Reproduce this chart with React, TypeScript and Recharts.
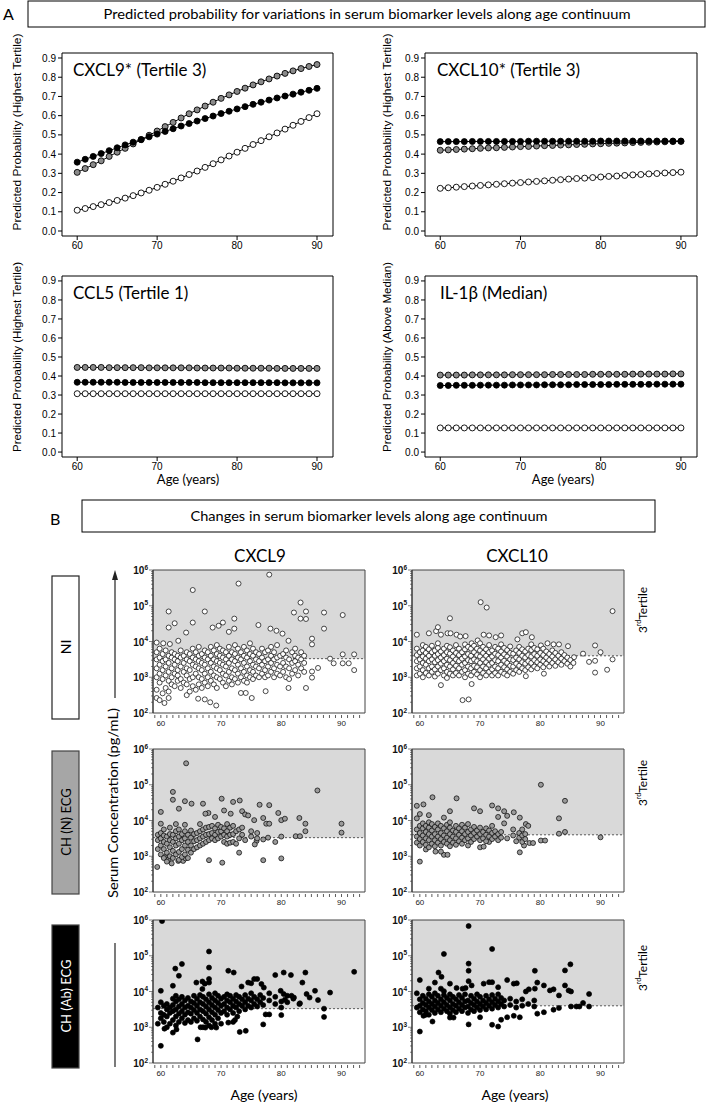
import React from "react"
import {
  LineChart,
  Line,
  ScatterChart,
  Scatter,
  XAxis,
  YAxis,
  ReferenceArea,
  ReferenceLine,
} from "recharts"

const ARIAL = "'Liberation Sans', Arial, sans-serif"
const CALIBRI = "Lato, 'Open Sans', sans-serif"

// ---------- panel A: predicted probability ----------
const ages = [60, 61, 62, 63, 64, 65, 66, 67, 68, 69, 70, 71, 72, 73, 74, 75, 76, 77, 78, 79, 80, 81, 82, 83, 84, 85, 86, 87, 88, 89, 90]
const probTicks = [0, 0.1, 0.2, 0.3, 0.4, 0.5, 0.6, 0.7, 0.8, 0.9]
const ageTicksA = [60, 70, 80, 90]

const cxcl9Grey = [0.305, 0.325, 0.345, 0.365, 0.388, 0.41, 0.43, 0.453, 0.475, 0.498, 0.52, 0.543, 0.565, 0.588, 0.61, 0.63, 0.65, 0.67, 0.69, 0.708, 0.726, 0.743, 0.76, 0.776, 0.791, 0.806, 0.82, 0.833, 0.845, 0.856, 0.866]
const cxcl9Black = [0.358, 0.373, 0.388, 0.403, 0.418, 0.433, 0.448, 0.462, 0.476, 0.49, 0.504, 0.518, 0.532, 0.546, 0.559, 0.572, 0.585, 0.598, 0.611, 0.623, 0.635, 0.647, 0.659, 0.67, 0.681, 0.692, 0.702, 0.712, 0.722, 0.732, 0.742]
const cxcl9White = [0.108, 0.117, 0.127, 0.137, 0.148, 0.159, 0.171, 0.184, 0.198, 0.212, 0.227, 0.243, 0.259, 0.276, 0.294, 0.312, 0.331, 0.35, 0.37, 0.39, 0.41, 0.43, 0.45, 0.47, 0.49, 0.51, 0.53, 0.55, 0.57, 0.59, 0.61]

const cxcl10Grey = [0.42, 0.422, 0.424, 0.426, 0.428, 0.43, 0.432, 0.433, 0.435, 0.437, 0.439, 0.44, 0.442, 0.444, 0.445, 0.447, 0.448, 0.45, 0.451, 0.453, 0.454, 0.456, 0.457, 0.458, 0.46, 0.461, 0.462, 0.463, 0.464, 0.465, 0.466]
const cxcl10Black = [0.465, 0.465, 0.465, 0.465, 0.466, 0.466, 0.466, 0.466, 0.466, 0.466, 0.466, 0.467, 0.467, 0.467, 0.467, 0.467, 0.467, 0.467, 0.467, 0.467, 0.468, 0.468, 0.468, 0.468, 0.468, 0.468, 0.468, 0.468, 0.468, 0.468, 0.468]
const cxcl10White = [0.222, 0.225, 0.228, 0.231, 0.234, 0.237, 0.24, 0.243, 0.246, 0.249, 0.252, 0.255, 0.258, 0.261, 0.264, 0.267, 0.27, 0.273, 0.275, 0.278, 0.281, 0.284, 0.286, 0.289, 0.292, 0.294, 0.297, 0.299, 0.302, 0.304, 0.306]

const ccl5Grey = [0.445, 0.445, 0.445, 0.445, 0.444, 0.444, 0.444, 0.444, 0.444, 0.443, 0.443, 0.443, 0.443, 0.443, 0.443, 0.442, 0.442, 0.442, 0.442, 0.442, 0.441, 0.441, 0.441, 0.441, 0.441, 0.44, 0.44, 0.44, 0.44, 0.44, 0.44]
const ccl5Black = [0.367, 0.367, 0.367, 0.367, 0.367, 0.367, 0.366, 0.366, 0.366, 0.366, 0.366, 0.366, 0.366, 0.366, 0.366, 0.366, 0.365, 0.365, 0.365, 0.365, 0.365, 0.365, 0.365, 0.365, 0.365, 0.365, 0.364, 0.364, 0.364, 0.364, 0.364]
const ccl5White = [0.307, 0.307, 0.307, 0.307, 0.307, 0.307, 0.307, 0.307, 0.307, 0.307, 0.307, 0.307, 0.307, 0.307, 0.307, 0.307, 0.307, 0.307, 0.307, 0.307, 0.307, 0.307, 0.307, 0.307, 0.307, 0.307, 0.307, 0.307, 0.307, 0.307, 0.307]

const il1bGrey = [0.405, 0.405, 0.405, 0.405, 0.406, 0.406, 0.406, 0.406, 0.406, 0.407, 0.407, 0.407, 0.407, 0.407, 0.408, 0.408, 0.408, 0.408, 0.408, 0.409, 0.409, 0.409, 0.409, 0.409, 0.41, 0.41, 0.41, 0.41, 0.41, 0.411, 0.411]
const il1bBlack = [0.35, 0.35, 0.351, 0.351, 0.351, 0.352, 0.352, 0.352, 0.352, 0.353, 0.353, 0.353, 0.353, 0.354, 0.354, 0.354, 0.354, 0.355, 0.355, 0.355, 0.355, 0.355, 0.356, 0.356, 0.356, 0.356, 0.356, 0.357, 0.357, 0.357, 0.357]
const il1bWhite = [0.127, 0.127, 0.127, 0.127, 0.127, 0.127, 0.127, 0.127, 0.127, 0.127, 0.127, 0.127, 0.127, 0.127, 0.127, 0.127, 0.127, 0.127, 0.127, 0.127, 0.127, 0.127, 0.127, 0.127, 0.127, 0.127, 0.127, 0.127, 0.127, 0.127, 0.127]

// ---------- panel B: serum concentration (log10 pg/mL) ----------
const yearTicks = [59, 60, 61, 62, 63, 64, 65, 66, 67, 68, 69, 70, 71, 72, 73, 74, 75, 76, 77, 78, 79, 80, 81, 82, 83, 84, 85, 86, 87, 88, 89, 90, 91, 92, 93]
const concTicks = [
  100, 200, 300, 400, 500, 600, 700, 800, 900,
  1000, 2000, 3000, 4000, 5000, 6000, 7000, 8000, 9000,
  10000, 20000, 30000, 40000, 50000, 60000, 70000, 80000, 90000,
  100000, 200000, 300000, 400000, 500000, 600000, 700000, 800000, 900000, 1000000,
]
const cxcl9Cut = 3.52
const cxcl10Cut = 3.6

// [age, log10 conc]
const cxcl9NiOut = [
  [65.3, 5.44], [72.9, 5.62], [78, 5.87], [83.2, 5.09], [61.3, 4.84], [62.3, 4.51], [61.3, 4.39], [65.3, 4.53], [67.3, 4.84],
  [64.2, 4.25], [62.9, 4.02], [59.3, 3.97], [60.4, 3.95], [61.5, 3.93], [70.3, 4.53], [69.6, 4.44], [68.6, 4.39], [72.2, 4.64],
  [71.3, 4.27], [72.2, 4.36], [76.2, 4.46], [78.2, 4.36], [79.2, 4.3], [80.2, 4.22], [82.1, 4.81], [84.1, 4.84], [83.2, 4.64],
  [84.1, 4.63], [87.1, 4.81], [87.1, 4.36], [90.2, 4.74], [85.1, 4.08], [85.1, 3.92], [81.2, 4.02], [88.1, 3.52], [88.7, 3.39],
  [90.2, 3.39], [91.2, 3.39], [90.2, 3.64], [92.1, 3.64], [92.1, 3.2], [86.1, 3.26], [85.1, 2.99], [85.1, 3.16], [84.1, 2.7],
  [81.2, 2.7], [77.4, 2.61], [66.2, 2.4], [67.3, 2.38], [68.2, 2.3], [69.2, 2.21], [73.3, 2.56], [74.1, 2.56], [75.1, 2.42],
  [59.3, 2.42], [59.8, 2.36], [60.6, 2.28], [61.3, 2.42],
]
const cxcl9NiCore = [
  [59.3, [2.65, 3.0, 3.25, 3.5, 3.7]], [59.8, [2.85, 3.1, 3.35, 3.55, 3.8]], [60.3, [2.55, 2.95, 3.2, 3.45, 3.65]],
  [60.8, [2.7, 3.05, 3.3, 3.5, 3.75]], [61.3, [2.6, 2.9, 3.15, 3.4, 3.6]], [61.8, [2.8, 3.0, 3.25, 3.55, 3.7]],
  [62.3, [2.75, 3.1, 3.35, 3.5, 3.65]], [62.8, [2.9, 3.05, 3.2, 3.45, 3.6]], [63.3, [2.7, 2.95, 3.3, 3.55, 3.75]],
  [63.8, [2.85, 3.15, 3.4, 3.6]], [64.3, [2.5, 2.8, 3.05, 3.25, 3.5, 3.7]], [64.8, [2.6, 2.95, 3.2, 3.45, 3.65]],
  [65.3, [2.75, 3.0, 3.35, 3.55, 3.8]], [65.8, [2.65, 3.1, 3.3, 3.5, 3.7]], [66.3, [2.8, 3.0, 3.25, 3.45, 3.6, 3.85]],
  [66.8, [2.7, 2.95, 3.2, 3.4, 3.65]], [67.3, [2.85, 3.1, 3.35, 3.55, 3.75]], [67.8, [2.75, 3.0, 3.25, 3.5, 3.7]],
  [68.3, [2.9, 3.15, 3.4, 3.6, 3.85]], [68.8, [2.8, 3.05, 3.3, 3.5, 3.75]], [69.3, [2.7, 3.0, 3.25, 3.45, 3.65, 3.9]],
  [69.8, [2.95, 3.2, 3.4, 3.6, 3.8]], [70.3, [2.85, 3.1, 3.35, 3.55, 3.75]], [70.8, [2.75, 3.05, 3.3, 3.5, 3.7]],
  [71.3, [2.9, 3.15, 3.4, 3.6, 3.85]], [71.8, [2.8, 3.0, 3.25, 3.5, 3.7]], [72.3, [2.95, 3.2, 3.45, 3.65, 3.9]],
  [72.8, [2.85, 3.1, 3.35, 3.55, 3.8]], [73.3, [3.0, 3.25, 3.5, 3.7]], [73.8, [2.9, 3.15, 3.4, 3.6, 3.85]],
  [74.3, [2.85, 3.05, 3.3, 3.55, 3.75]], [74.8, [3.0, 3.2, 3.45, 3.65, 3.95]], [75.3, [2.95, 3.15, 3.35, 3.6, 3.8]],
  [75.8, [3.05, 3.3, 3.5, 3.7]], [76.3, [3.0, 3.25, 3.45, 3.65]], [76.8, [3.1, 3.35, 3.55, 3.8]],
  [77.3, [3.0, 3.2, 3.45, 3.7]], [77.8, [3.05, 3.3, 3.5, 3.75]], [78.3, [3.15, 3.4, 3.6, 3.85]],
  [78.8, [3.0, 3.25, 3.5, 3.7]], [79.3, [3.1, 3.35, 3.55, 3.9]], [79.8, [3.05, 3.3, 3.6]],
  [80.3, [3.15, 3.4, 3.65]], [80.8, [3.0, 3.3, 3.55, 3.75]], [81.3, [2.95, 3.25, 3.5]],
  [81.8, [3.1, 3.4, 3.7]], [82.3, [3.2, 3.45, 3.6, 3.8]], [82.8, [3.05, 3.35, 3.55]],
  [83.3, [3.25, 3.5, 3.7]], [83.8, [3.15, 3.4, 3.6]],
]

const cxcl10NiOut = [
  [70.1, 5.1], [71.1, 4.95], [65, 4.65], [92, 4.85], [59.5, 4.19], [61.5, 4.23], [62.7, 4.29], [63.0, 4.4], [63.5, 4.19],
  [64.6, 4.23], [65.1, 4.23], [66.1, 4.19], [66.7, 4.14], [67.6, 4.15], [68.6, 3.95], [69.6, 4.03], [70.6, 4.19], [71.5, 4.17],
  [72.6, 4.12], [73.5, 4.17], [76.2, 4.06], [77, 4.23], [77.6, 4.26], [78.6, 4.12], [80.1, 3.89], [81.2, 3.95], [82.2, 3.92],
  [83.1, 3.92], [84.6, 3.87], [85.6, 3.56], [87.1, 3.66], [89.1, 3.89], [88.1, 3.43], [89.1, 3.46], [89.1, 3.13], [90, 3.7],
  [91.1, 3.21], [92, 3.5], [63.5, 2.78], [68.6, 2.81], [67.1, 2.36], [68.1, 2.38], [77.6, 3.03], [80.6, 3.1],
]
const cxcl10NiCore = [
  [59.5, [3.05, 3.25, 3.45, 3.62, 3.8]], [60.0, [3.1, 3.3, 3.5, 3.7]], [60.5, [3.0, 3.2, 3.4, 3.58, 3.75, 3.9]],
  [61.0, [3.12, 3.35, 3.52, 3.68, 3.85]], [61.5, [3.05, 3.25, 3.45, 3.6, 3.78]], [62.0, [3.15, 3.3, 3.5, 3.7, 3.88]],
  [62.5, [3.02, 3.22, 3.42, 3.6, 3.75]], [63.0, [3.1, 3.3, 3.48, 3.65, 3.82, 3.95]], [63.5, [3.2, 3.38, 3.55, 3.72]],
  [64.0, [3.05, 3.25, 3.45, 3.62, 3.8]], [64.5, [2.98, 3.15, 3.35, 3.52, 3.7, 3.88]], [65.0, [3.1, 3.3, 3.48, 3.66, 3.84]],
  [65.5, [3.05, 3.22, 3.4, 3.58, 3.75]], [66.0, [3.12, 3.32, 3.5, 3.68, 3.9]], [66.5, [3.05, 3.25, 3.45, 3.62, 3.8]],
  [67.0, [3.15, 3.35, 3.52, 3.7]], [67.5, [3.0, 3.2, 3.4, 3.58, 3.78, 3.92]], [68.0, [3.1, 3.3, 3.48, 3.65, 3.85]],
  [68.5, [3.05, 3.25, 3.45, 3.6, 3.8]], [69.0, [3.15, 3.32, 3.5, 3.7, 3.88]], [69.5, [3.08, 3.28, 3.45, 3.62, 3.8]],
  [70.0, [3.0, 3.2, 3.4, 3.58, 3.75, 3.95]], [70.5, [3.12, 3.3, 3.5, 3.68, 3.85]], [71.0, [3.05, 3.25, 3.42, 3.6, 3.78]],
  [71.5, [3.15, 3.35, 3.52, 3.7, 3.9]], [72.0, [3.05, 3.22, 3.4, 3.58, 3.75]], [72.5, [3.12, 3.3, 3.48, 3.66, 3.85]],
  [73.0, [3.05, 3.25, 3.45, 3.62, 3.8]], [73.5, [3.15, 3.35, 3.55, 3.72, 3.92]], [74.0, [3.1, 3.28, 3.46, 3.64, 3.82]],
  [74.5, [3.05, 3.22, 3.4, 3.58, 3.76]], [75.0, [3.15, 3.32, 3.5, 3.68, 3.86]], [75.5, [3.1, 3.3, 3.48, 3.66]],
  [76.0, [3.2, 3.38, 3.55, 3.75]], [76.5, [3.15, 3.32, 3.5, 3.68, 3.85]], [77.0, [3.25, 3.42, 3.6, 3.78]],
  [77.5, [3.2, 3.38, 3.55, 3.72]], [78.0, [3.28, 3.45, 3.62, 3.8]], [78.5, [3.22, 3.4, 3.58, 3.76, 3.92]],
  [79.0, [3.3, 3.48, 3.65, 3.82]], [79.5, [3.25, 3.42, 3.6, 3.78]], [80.0, [3.35, 3.5, 3.68]],
  [80.5, [3.28, 3.45, 3.62, 3.8]], [81.0, [3.38, 3.55, 3.72]], [81.5, [3.3, 3.48, 3.65]],
  [82.0, [3.4, 3.58, 3.75]], [82.5, [3.32, 3.5, 3.68]], [83.0, [3.42, 3.6]],
  [83.5, [3.35, 3.52, 3.7]], [84.0, [3.45, 3.62]], [84.5, [3.38, 3.55]], [85.0, [3.3, 3.48]], [85.5, [3.4]],
]

const cxcl9ChnOut = [
  [64.2, 5.6], [59.4, 2.7], [60, 4.24], [60, 3.91], [62, 4.8], [62, 4.58], [63, 4.33], [64, 4.54], [65.1, 4.47], [67, 4.47],
  [67.9, 4.21], [67.4, 4.19], [69, 4.1], [70.1, 4.61], [70.5, 4.28], [71.6, 4.19], [72, 4.52], [73.1, 4.56], [73.5, 4.26],
  [74, 4.17], [74.5, 4.14], [75.5, 4.01], [76.4, 4.44], [78, 4.43], [77, 4.07], [77.5, 3.91], [78, 3.91], [79.5, 4.21],
  [80, 4.01], [80.6, 4.05], [83, 4.07], [84, 3.91], [84, 3.7], [86, 4.84], [90, 3.91], [90, 3.66], [82.4, 3.56], [83.1, 3.56],
  [80, 3.55], [77.8, 3.52], [77, 3.47], [75.9, 3.43], [75.6, 3.33], [79, 3.4], [73, 3.1], [70.2, 2.82], [68, 2.89], [77, 2.89],
  [80, 2.94], [60.7, 2.98], [61.8, 2.8], [62.9, 2.87], [63.7, 2.87], [64.1, 2.94], [61.2, 2.9],
]
const cxcl9ChnCore = [
  [59.5, [3.2, 3.45, 3.6]], [60.0, [3.05, 3.3, 3.5, 3.65]], [60.5, [2.95, 3.2, 3.4, 3.58, 3.75]],
  [61.0, [2.85, 3.1, 3.35, 3.55]], [61.5, [3.0, 3.25, 3.45, 3.62, 3.8]], [62.0, [2.95, 3.15, 3.4, 3.6]],
  [62.5, [3.05, 3.3, 3.5, 3.7, 3.9]], [63.0, [2.9, 3.12, 3.35, 3.55, 3.75]], [63.5, [2.98, 3.2, 3.45, 3.62]],
  [64.0, [3.05, 3.3, 3.5, 3.7, 3.88]], [64.5, [2.95, 3.18, 3.4, 3.6]], [65.0, [3.1, 3.3, 3.52, 3.72]],
  [65.5, [3.2, 3.42, 3.62]], [66.0, [3.25, 3.45, 3.65]], [66.5, [3.3, 3.5, 3.7, 3.9]], [67.0, [3.35, 3.55, 3.75]],
  [67.5, [3.4, 3.6, 3.8]], [68.0, [3.45, 3.62, 3.82]], [68.5, [3.5, 3.65, 3.85]], [69.0, [3.45, 3.6, 3.78]],
  [69.5, [3.5, 3.68, 3.88]], [70.0, [3.55, 3.7, 3.82]], [70.5, [3.4, 3.6, 3.78]], [71.0, [3.35, 3.55, 3.7, 3.9]],
  [71.5, [3.38, 3.6, 3.8]], [72.0, [3.4, 3.62, 3.85]], [72.5, [3.35, 3.7]], [73.0, [3.5, 3.75]], [73.5, [3.6, 3.8]],
  [74.0, [3.45]], [75.0, [3.55, 3.7]], [76.0, [3.5, 3.65]],
]

const cxcl10ChnOut = [
  [80.1, 5.0], [84.1, 4.55], [83.1, 4.06], [83.1, 3.63], [84.1, 3.68], [80.1, 3.44], [80.8, 3.44], [90, 3.53], [62.1, 4.65],
  [66.1, 4.62], [60.6, 4.45], [59.5, 4.41], [60, 4.18], [59.5, 4.06], [61.5, 4.15], [64, 4.08], [65, 4.26], [69, 4.34], [70, 4.26],
  [72, 4.42], [73, 4.34], [74, 4.26], [74.5, 4.13], [75.6, 4.23], [73, 4.1], [74, 3.92], [76.6, 4.08], [77.6, 3.9], [78, 3.85],
  [76.6, 3.11], [60, 2.85], [64, 3.04], [64.6, 3.04], [63.5, 3.13], [62.6, 3.13], [61, 3.19], [70, 3.25], [70.6, 3.27],
  [71.5, 3.4], [76, 3.42], [77.3, 3.3], [78.2, 3.37], [78.8, 3.37],
]
const cxcl10ChnCore = [
  [59.5, [3.38, 3.55, 3.75]], [60.0, [3.3, 3.48, 3.65, 3.85]], [60.5, [3.4, 3.58, 3.78, 3.92]], [61.0, [3.32, 3.5, 3.68, 3.85]],
  [61.5, [3.25, 3.45, 3.62, 3.8, 3.95]], [62.0, [3.35, 3.55, 3.72, 3.9]], [62.5, [3.28, 3.45, 3.62, 3.82]],
  [63.0, [3.38, 3.55, 3.75, 3.92]], [63.5, [3.3, 3.48, 3.65, 3.85]], [64.0, [3.4, 3.58, 3.78]], [64.5, [3.35, 3.52, 3.7, 3.88]],
  [65.0, [3.28, 3.45, 3.62, 3.8, 3.95]], [65.5, [3.38, 3.55, 3.72]], [66.0, [3.32, 3.5, 3.68, 3.85]], [66.5, [3.42, 3.6, 3.78]],
  [67.0, [3.35, 3.52, 3.7, 3.88]], [67.5, [3.45, 3.62, 3.8]], [68.0, [3.3, 3.5, 3.68, 3.9]], [68.5, [3.4, 3.58, 3.75]],
  [69.0, [3.48, 3.65, 3.82]], [69.5, [3.55, 3.72]], [70.0, [3.45, 3.62, 3.8]], [70.5, [3.5, 3.68]], [71.0, [3.42, 3.6, 3.78]],
  [71.5, [3.55, 3.72]], [72.0, [3.48, 3.65, 3.85]], [72.5, [3.55, 3.7]], [73.0, [3.45, 3.62]], [73.5, [3.52, 3.68]],
  [74.5, [3.5]], [75.5, [3.58, 3.75]], [76.5, [3.52, 3.65]], [77.0, [3.4, 3.58, 3.75]], [77.5, [3.48, 3.62]],
]

const cxcl9AbOut = [
  [60.2, 5.97], [68, 5.12], [63.5, 4.77], [62.4, 4.64], [63, 4.44], [68, 4.67], [68, 4.35], [68, 4.25], [71.2, 4.58], [72.1, 4.53],
  [60, 4.02], [62, 4.16], [65.9, 4.25], [66.9, 4.28], [67.3, 4.22], [66.9, 4.07], [73.4, 4.14], [74.5, 4.25], [75.5, 4.35],
  [76, 4.35], [75, 4.23], [76.7, 4.21], [77.1, 4.11], [79, 4.46], [80.4, 4.53], [81.6, 4.46], [79.9, 4.02], [80.4, 3.93],
  [80.6, 3.77], [81.7, 3.88], [82.1, 3.83], [83.1, 3.67], [83.5, 4.25], [84, 4.53], [84.2, 3.93], [84.7, 3.83], [85.6, 4.02],
  [86.1, 3.76], [87.1, 3.52], [87.1, 3.29], [88.1, 3.97], [92.1, 4.55], [80, 3.34], [78, 3.36], [77.4, 3.36], [77, 3.08],
  [74.1, 2.9], [73.1, 2.87], [66.1, 2.66], [60, 2.48], [62, 2.85], [62.6, 2.94], [60.6, 2.96], [69.2, 2.99], [67.4, 2.99],
  [66.6, 3.0], [68.4, 3.0], [71.2, 3.13], [72, 3.15], [72.3, 3.2], [72.7, 3.3],
]
const cxcl9AbCore = [
  [59.5, [3.1, 3.55]], [60.0, [3.25, 3.4, 3.7]], [60.5, [3.15, 3.35, 3.6]], [61.0, [3.0, 3.3, 3.5, 3.65]],
  [61.5, [3.1, 3.4, 3.55]], [62.0, [3.2, 3.45, 3.62, 3.8]], [62.5, [3.05, 3.3, 3.5, 3.72, 3.88]], [63.0, [3.15, 3.38, 3.58, 3.78]],
  [63.5, [3.25, 3.45, 3.65, 3.85]], [64.0, [3.12, 3.35, 3.55, 3.75]], [64.5, [3.2, 3.42, 3.6, 3.82]], [65.0, [3.15, 3.38, 3.55, 3.72]],
  [65.5, [3.25, 3.48, 3.68, 3.88]], [66.0, [3.18, 3.4, 3.6, 3.8]], [66.5, [3.3, 3.5, 3.7, 3.9]], [67.0, [3.0, 3.22, 3.45, 3.65, 3.85]],
  [67.5, [3.15, 3.38, 3.58, 3.78]], [68.0, [3.05, 3.28, 3.5, 3.7, 3.92]], [68.5, [3.2, 3.42, 3.62, 3.82]],
  [69.0, [3.1, 3.35, 3.55, 3.75, 3.95]], [69.5, [3.25, 3.48, 3.68, 3.88]], [70.0, [3.1, 3.4, 3.6, 3.8]], [70.5, [3.45, 3.65, 3.85]],
  [71.0, [3.35, 3.55, 3.75, 3.92]], [71.5, [3.5, 3.7, 3.88]], [72.0, [3.4, 3.6, 3.8]], [72.5, [3.55, 3.72, 3.9]],
  [73.0, [3.45, 3.65, 3.85]], [73.5, [3.6, 3.78]], [74.0, [3.5, 3.7, 3.9]], [74.5, [3.6, 3.8]], [75.0, [3.55, 3.75, 3.95]],
  [75.5, [3.65, 3.85]], [76.0, [3.58, 3.78]], [76.5, [3.7, 3.9]], [77.0, [3.62, 3.82]], [78.0, [3.75, 3.95]],
  [79.0, [3.65, 3.85]], [80.0, [3.55, 3.72]], [81.0, [3.7, 3.88]], [82.0, [3.8]], [83.0, [3.65]],
]

const cxcl10AbOut = [
  [68.1, 5.83], [64, 5.05], [72, 5.19], [63.1, 4.53], [63.6, 4.41], [60, 4.32], [68.1, 4.78], [68.1, 4.58], [68.1, 4.29],
  [65, 4.22], [62.5, 4.25], [64, 4.01], [63.5, 4.08], [61.5, 4.08], [66.1, 4.1], [67.1, 4.08], [67.6, 4.1], [68.6, 4.17],
  [70.6, 4.22], [71.5, 4.26], [72, 4.26], [73, 4.12], [74.5, 4.32], [75.6, 4.22], [76.1, 4.23], [79.1, 4.58], [79.5, 4.25],
  [80.6, 4.17], [81.6, 4.03], [82.2, 4.06], [79.1, 4.08], [78.1, 4.06], [77.6, 4.0], [84.1, 4.59], [85, 4.76], [84.1, 4.17],
  [84.7, 4.03], [85.1, 4.0], [83.1, 3.89], [88.1, 3.93], [85.1, 3.58], [86, 3.58], [86.5, 3.58], [88.1, 3.58], [87.1, 3.68],
  [82.2, 3.49], [83.1, 3.54], [79.5, 3.38], [80.6, 3.42], [76.6, 3.28], [75.6, 3.32], [74.5, 3.28], [73, 3.02], [73.5, 3.21],
  [72, 3.07], [68.1, 3.08], [70, 3.28], [65, 3.27], [65.6, 3.27], [62.1, 3.16], [60, 2.88], [60.6, 3.32], [61, 3.35],
]
const cxcl10AbCore = [
  [59.5, [3.55, 3.95]], [60.0, [3.42, 3.6, 3.78]], [60.5, [3.5, 3.68, 3.88]], [61.0, [3.45, 3.62, 3.8]],
  [61.5, [3.35, 3.55, 3.72, 3.92]], [62.0, [3.48, 3.65, 3.85]], [62.5, [3.4, 3.58, 3.75, 3.95]], [63.0, [3.5, 3.68, 3.88]],
  [63.5, [3.42, 3.6, 3.78]], [64.0, [3.52, 3.7, 3.9]], [64.5, [3.45, 3.62, 3.82]], [65.0, [3.38, 3.55, 3.75, 3.92]],
  [65.5, [3.48, 3.65, 3.85]], [66.0, [3.42, 3.6, 3.78]], [66.5, [3.52, 3.7, 3.9]], [67.0, [3.45, 3.62, 3.82]],
  [67.5, [3.55, 3.72, 3.92]], [68.0, [3.4, 3.58, 3.75]], [68.5, [3.5, 3.68, 3.88]], [69.0, [3.45, 3.62, 3.8]],
  [69.5, [3.55, 3.72, 3.92]], [70.0, [3.48, 3.65, 3.85]], [70.5, [3.58, 3.75]], [71.0, [3.5, 3.68, 3.88]],
  [71.5, [3.6, 3.78]], [72.0, [3.52, 3.7, 3.9]], [72.5, [3.62, 3.8]], [73.0, [3.55, 3.72, 3.92]], [73.5, [3.65, 3.82]],
  [74.0, [3.58, 3.75]], [75.0, [3.62, 3.8]], [76.0, [3.55, 3.72]], [77.0, [3.6, 3.78]], [78.0, [3.65]], [79.0, [3.58, 3.75]],
]

type Pair = number[]
type Col = [number, number[]]

function toRows(out: Pair[], core: Col[]) {
  const rows = out.map(([a, v]) => ({ age: a, conc: Math.pow(10, v) }))
  core.forEach(([a, vs]) => vs.forEach((v) => rows.push({ age: a, conc: Math.pow(10, v) })))
  return rows
}

// ---------- charts ----------
const PAD_L = 45
const PAD_T = 6
const PAD_R = 6
const PAD_B = 30
const A_X = [58.1, 92]
const A_Y = [-0.026, 0.926]

function ProbChart({ x0, y0, w, h, grey, black, white }: any) {
  const rows = ages.map((a, i) => ({ age: a, grey: grey[i], black: black[i], white: white[i] }))
  const dot = (fill: string) => ({ r: 3, fill, stroke: "#000", strokeWidth: 0.9 })
  return (
    <div style={{ position: "absolute", left: x0 - PAD_L, top: y0 - PAD_T }}>
      <LineChart
        width={w + PAD_L + PAD_R}
        height={h + PAD_T + PAD_B}
        data={rows}
        margin={{ top: PAD_T, right: PAD_R, left: PAD_L - 40, bottom: PAD_B - 25 }}
      >
        <XAxis
          type="number"
          dataKey="age"
          domain={A_X}
          ticks={ageTicksA}
          allowDataOverflow
          axisLine={false}
          tickSize={4}
          tickLine={{ stroke: "#000" }}
          tick={{ fontSize: 10, fill: "#000", fontFamily: ARIAL }}
          height={25}
        />
        <YAxis
          type="number"
          domain={A_Y}
          ticks={probTicks}
          tickFormatter={(v: number) => v.toFixed(1)}
          allowDataOverflow
          axisLine={false}
          tickSize={4}
          tickLine={{ stroke: "#000" }}
          tick={{ fontSize: 10, fill: "#000", fontFamily: ARIAL }}
          width={40}
        />
        <ReferenceArea x1={A_X[0]} x2={A_X[1]} y1={A_Y[0]} y2={A_Y[1]} fill="none" stroke="#000" strokeWidth={1} />
        <Line dataKey="white" stroke="#000" strokeWidth={1} dot={dot("#fff")} activeDot={false} isAnimationActive={false} />
        <Line dataKey="grey" stroke="#000" strokeWidth={1} dot={dot("#8a8a8a")} activeDot={false} isAnimationActive={false} />
        <Line dataKey="black" stroke="#000" strokeWidth={1} dot={dot("#000")} activeDot={false} isAnimationActive={false} />
      </LineChart>
    </div>
  )
}

const B_X = [58.7, 93.9]
const B_Y = [100, 1000000]

function YearTick(props: any) {
  const { x, y, payload } = props
  const v = payload.value
  return (
    <g>
      <line x1={x} x2={x} y1={y + 2} y2={y + 5} stroke="#333" strokeWidth={0.8} />
      {v % 10 === 0 && (
        <text x={x} y={y + 13} textAnchor="middle" fontSize={8} fontFamily={ARIAL} fill="#222">
          {v}
        </text>
      )}
    </g>
  )
}

function ConcTick(props: any) {
  const { x, y, payload } = props
  const v = payload.value
  const exp = Math.round(Math.log10(v))
  const major = Math.abs(v - Math.pow(10, exp)) < 1e-6 * v
  return (
    <g>
      <line x1={x - (major ? 4 : 2)} x2={x} y1={y} y2={y} stroke="#333" strokeWidth={0.6} />
      {major && (
        <text x={x - 5} y={y + 4} textAnchor="end" fontSize={10} fontWeight="bold" fontFamily={ARIAL} fill="#111">
          10<tspan dy={-4.5} fontSize={6.5}>{exp}</tspan>
        </text>
      )}
    </g>
  )
}

function ConcChart({ x0, y0, w, h, rows, cut, fill }: any) {
  const shape = (p: any) => <circle cx={p.cx} cy={p.cy} r={2.5} fill={fill} stroke="#000" strokeWidth={0.7} />
  return (
    <div style={{ position: "absolute", left: x0 - PAD_L, top: y0 - PAD_T }}>
      <ScatterChart
        width={w + PAD_L + PAD_R}
        height={h + PAD_T + PAD_B}
        margin={{ top: PAD_T, right: PAD_R, left: PAD_L - 30, bottom: PAD_B - 20 }}
      >
        <XAxis
          type="number"
          dataKey="age"
          domain={B_X}
          ticks={yearTicks}
          interval={0}
          allowDataOverflow
          axisLine={false}
          tickLine={false}
          tickSize={0}
          tickMargin={0}
          tick={<YearTick />}
          height={20}
        />
        <YAxis
          type="number"
          dataKey="conc"
          scale="log"
          domain={B_Y}
          ticks={concTicks}
          interval={0}
          allowDataOverflow
          axisLine={{ stroke: "#333" }}
          tickLine={false}
          tickSize={0}
          tickMargin={0}
          tick={<ConcTick />}
          width={30}
        />
        <ReferenceArea y1={Math.pow(10, cut)} y2={B_Y[1]} fill="#d9d9d9" fillOpacity={1} stroke="none" />
        <ReferenceLine y={Math.pow(10, cut)} stroke="#333" strokeDasharray="2 2" strokeWidth={0.8} />
        <ReferenceArea x1={B_X[0]} x2={B_X[1]} y1={B_Y[0]} y2={B_Y[1]} fill="none" stroke="#444" strokeWidth={1} />
        <Scatter data={rows} shape={shape} isAnimationActive={false} />
      </ScatterChart>
    </div>
  )
}

function RotText({ x, y, children, size = 12, family = ARIAL, fill = "#000", len }: any) {
  return (
    <text
      transform={`translate(${x},${y}) rotate(-90)`}
      textAnchor="middle"
      dominantBaseline="central"
      fontSize={size}
      fontFamily={family}
      fill={fill}
      textLength={len}
      lengthAdjust={len ? "spacingAndGlyphs" : undefined}
    >
      {children}
    </text>
  )
}

function Tertile({ y }: { y: number }) {
  return (
    <text transform={`translate(642,${y}) rotate(-90)`} textAnchor="middle" dominantBaseline="central" fontSize={12} fontFamily={CALIBRI}>
      3<tspan dy={-4} fontSize={7}>rd</tspan>
      <tspan dy={4}>Tertile</tspan>
    </text>
  )
}

const colX = [153, 412]
const rowY = [570, 749, 920]
const B_W = 212
const B_H = 143

export default function App() {
  return (
    <div style={{ position: "absolute", left: 0, top: 0, width: 709, height: 1103, background: "#fff" }}>
      <ProbChart x0={62} y0={53} w={271} h={183} grey={cxcl9Grey} black={cxcl9Black} white={cxcl9White} />
      <ProbChart x0={425} y0={53} w={272} h={183} grey={cxcl10Grey} black={cxcl10Black} white={cxcl10White} />
      <ProbChart x0={62} y0={276} w={271} h={181} grey={ccl5Grey} black={ccl5Black} white={ccl5White} />
      <ProbChart x0={425} y0={276} w={272} h={181} grey={il1bGrey} black={il1bBlack} white={il1bWhite} />

      <ConcChart x0={colX[0]} y0={rowY[0]} w={B_W} h={B_H} rows={toRows(cxcl9NiOut, cxcl9NiCore as Col[])} cut={cxcl9Cut} fill="#fff" />
      <ConcChart x0={colX[1]} y0={rowY[0]} w={B_W} h={B_H} rows={toRows(cxcl10NiOut, cxcl10NiCore as Col[])} cut={cxcl10Cut} fill="#fff" />
      <ConcChart x0={colX[0]} y0={rowY[1]} w={B_W} h={B_H} rows={toRows(cxcl9ChnOut, cxcl9ChnCore as Col[])} cut={cxcl9Cut} fill="#9a9a9a" />
      <ConcChart x0={colX[1]} y0={rowY[1]} w={B_W} h={B_H} rows={toRows(cxcl10ChnOut, cxcl10ChnCore as Col[])} cut={cxcl10Cut} fill="#9a9a9a" />
      <ConcChart x0={colX[0]} y0={rowY[2]} w={B_W} h={B_H} rows={toRows(cxcl9AbOut, cxcl9AbCore as Col[])} cut={cxcl9Cut} fill="#000" />
      <ConcChart x0={colX[1]} y0={rowY[2]} w={B_W} h={B_H} rows={toRows(cxcl10AbOut, cxcl10AbCore as Col[])} cut={cxcl10Cut} fill="#000" />

      <svg width={709} height={1103} style={{ position: "absolute", left: 0, top: 0, pointerEvents: "none" }}>
        {/* panel A header */}
        <text x={3} y={20} fontSize={16} fontFamily={CALIBRI}>A</text>
        <rect x={28} y={1} width={677} height={26} fill="none" stroke="#000" strokeWidth={1} />
        <text x={367} y={19} textAnchor="middle" fontSize={14} fontFamily={CALIBRI} textLength={527} lengthAdjust="spacingAndGlyphs">
          Predicted probability for variations in serum biomarker levels along age continuum
        </text>
        <text x={73} y={76} fontSize={17} fontFamily={CALIBRI}>CXCL9* (Tertile 3)</text>
        <text x={437} y={76} fontSize={17} fontFamily={CALIBRI}>CXCL10* (Tertile 3)</text>
        <text x={73} y={299} fontSize={17} fontFamily={CALIBRI}>CCL5 (Tertile 1)</text>
        <text x={440} y={299} fontSize={17} fontFamily={CALIBRI}>IL-1β (Median)</text>
        <RotText x={17} y={132} size={11} len={197}>Predicted Probability (Highest Tertile)</RotText>
        <RotText x={387} y={132} size={11} len={197}>Predicted Probability (Highest Tertile)</RotText>
        <RotText x={17} y={357} size={11} len={190}>Predicted Probability (Highest Tertile)</RotText>
        <RotText x={387} y={357} size={11} len={190}>Predicted Probability (Above Median)</RotText>
        <text x={188} y={484} textAnchor="middle" fontSize={13} fontFamily={CALIBRI}>Age (years)</text>
        <text x={563} y={484} textAnchor="middle" fontSize={13} fontFamily={CALIBRI}>Age (years)</text>

        {/* panel B header */}
        <text x={50} y={525} fontSize={16} fontFamily={CALIBRI}>B</text>
        <rect x={82} y={500} width={573} height={32} fill="none" stroke="#000" strokeWidth={1} />
        <text x={369} y={521} textAnchor="middle" fontSize={14} fontFamily={CALIBRI} textLength={357} lengthAdjust="spacingAndGlyphs">
          Changes in serum biomarker levels along age continuum
        </text>
        <text x={260} y={562} textAnchor="middle" fontSize={17} fontFamily={CALIBRI}>CXCL9</text>
        <text x={517} y={562} textAnchor="middle" fontSize={17} fontFamily={CALIBRI}>CXCL10</text>

        {/* group boxes */}
        <rect x={52} y={576} width={27} height={143} fill="#fff" stroke="#222" strokeWidth={1.2} />
        <RotText x={65.5} y={647} size={14} family={CALIBRI}>NI</RotText>
        <rect x={52} y={751} width={27} height={143} fill="#a6a6a6" stroke="#444" strokeWidth={1.2} />
        <RotText x={65.5} y={822} size={13} family={CALIBRI}>CH (N) ECG</RotText>
        <rect x={52} y={925} width={27} height={143} fill="#000" stroke="#444" strokeWidth={1.2} />
        <RotText x={65.5} y={996} size={13} family={CALIBRI} fill="#fff">CH (Ab) ECG</RotText>

        {/* arrow and bar */}
        <line x1={115} x2={115} y1={578} y2={698} stroke="#222" strokeWidth={1.2} />
        <polygon points="115,570 112,580 118,580" fill="#222" />
        <line x1={115} x2={115} y1={943} y2={1067} stroke="#222" strokeWidth={1.2} />

        <RotText x={113} y={803} size={13} family={CALIBRI} len={190}>Serum Concentration (pg/mL)</RotText>

        <Tertile y={610} />
        <Tertile y={783} />
        <Tertile y={968} />

        <text x={264} y={1100} textAnchor="middle" fontSize={14} fontFamily={CALIBRI}>Age (years)</text>
        <text x={515} y={1100} textAnchor="middle" fontSize={14} fontFamily={CALIBRI}>Age (years)</text>
      </svg>
    </div>
  )
}
